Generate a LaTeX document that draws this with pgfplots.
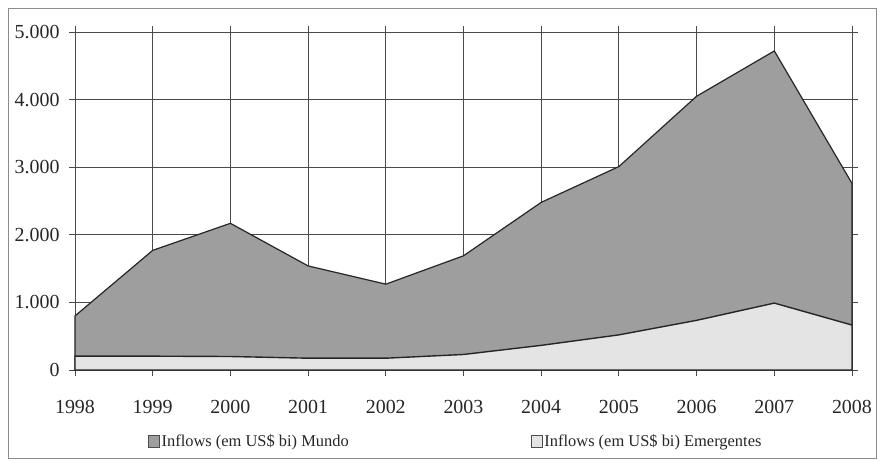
\documentclass[border=0pt]{standalone}
\usepackage{pgfplots}
\pgfplotsset{compat=1.18}
\usepackage{fontspec}
\setmainfont{Liberation Serif}
\definecolor{mundo}{HTML}{9E9E9E}
\definecolor{emerg}{HTML}{E4E4E4}
\definecolor{gridc}{HTML}{4A4A4A}
\begin{document}
\begin{tikzpicture}
\begin{axis}[
  scale only axis,
  width=777bp, height=338bp,
  xmin=1998, xmax=2008, ymin=0, ymax=5000,
  xtick={1998,...,2008},
  ytick={0,1000,...,5000},
  xticklabel style={/pgf/number format/1000 sep={}, yshift=-21bp},
  /pgf/number format/1000 sep={.},
  /pgf/number format/assume math mode=true,
  yticklabel style={xshift=-6bp},
  tick label style={font=\fontsize{20}{22}\selectfont, text=black!85},
  grid=major,
  major grid style={gridc, line width=0.8bp},
  axis line style={gridc, line width=0.8bp},
  tick style={gridc, line width=0.8bp},
  tick align=outside,
  major tick length=6bp,
  clip=false,
  legend columns=2,
  legend style={draw=none, fill=none, at={(0.49,-0.21)}, anchor=center,
    font=\fontsize{16.5}{18}\selectfont, text=black!85,
    /tikz/every even column/.append style={column sep=180bp}},
  legend image code/.code={\draw[#1, draw=black!70, line width=0.6bp] (0bp,-6bp) rectangle (11bp,6bp);},
]
\addplot[fill=mundo, draw=black!85, line width=1.2bp] coordinates {
  (1998,800) (1999,1770) (2000,2170) (2001,1540) (2002,1270) (2003,1690)
  (2004,2480) (2005,3010) (2006,4050) (2007,4720) (2008,2760)
} \closedcycle;
\addlegendentry{Inflows (em US\$ bi) Mundo}
\addplot[fill=emerg, draw=black!85, line width=1.4bp] coordinates {
  (1998,205) (1999,205) (2000,200) (2001,175) (2002,175) (2003,230)
  (2004,365) (2005,520) (2006,735) (2007,990) (2008,665)
} \closedcycle;
\addlegendentry{Inflows (em US\$ bi) Emergentes}
\draw[black!80, line width=1bp] (axis cs:1998,0) -- (axis cs:2008,0);
\draw[black!45, line width=0.8bp] (rel axis cs:-0.0862,-0.26) rectangle (rel axis cs:1.031,1.071);
\path (rel axis cs:-0.0965,-0.272) rectangle (rel axis cs:1.036,1.0947);
\end{axis}
\end{tikzpicture}
\end{document}
